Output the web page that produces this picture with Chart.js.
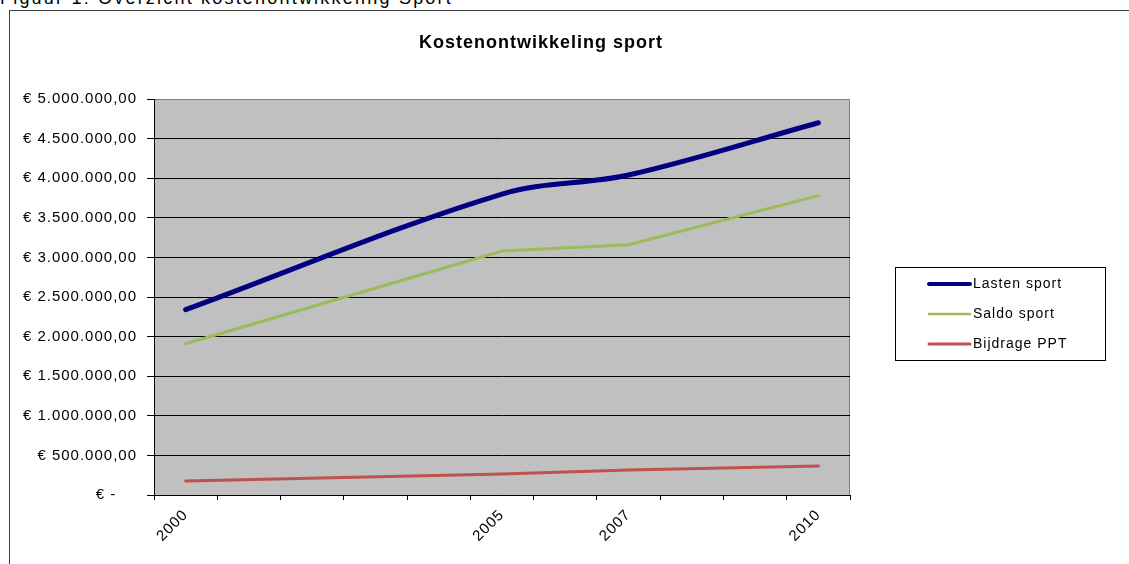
<!DOCTYPE html>
<html>
<head>
<meta charset="utf-8">
<title>Kostenontwikkeling sport</title>
<script src="https://cdn.jsdelivr.net/npm/chart.js@4.4.1/dist/chart.umd.min.js"></script>
<style>
    html, body { margin: 0; padding: 0; background: #fff; overflow: hidden; }
    #wrap { position: relative; width: 1129px; height: 564px; overflow: hidden; }
    #caption {
        position: absolute; left: 0; top: -12px;
        font: 18px 'Liberation Sans', Arial, sans-serif;
        letter-spacing: 2.2px; white-space: nowrap; color: #000;
    }
    #frame { position: absolute; left: 9px; top: 10px; width: 1200px; height: 600px; border: 1px solid #404040; }
    #chart { position: absolute; left: 0; top: 0; }
</style>
</head>
<body>
<div id="wrap">
    <div id="caption">Figuur 1: Overzicht kostenontwikkeling Sport</div>
    <div id="frame"></div>
    <canvas id="chart" width="1129" height="564"></canvas>
</div>
<script>
(function() {
    'use strict';

    // categorieen (alleen enkele jaren hebben een label)
    const categories = ['2000', '', '', '', '', '2005', '', '2007', '', '', '2010'];

    // waarden
    const lastenSport   = [2340000, null, null, null, null, 3800000, null, 4040000, null, null, 4700000];
    const saldoSport    = [1910000, null, null, null, null, 3080000, null, 3160000, null, null, 3780000];
    const bijdragePPT   = [177000,  null, null, null, null, 265000,  null, 315000,  null, null, 366000];

    const seriesNames = ['Lasten sport', 'Saldo sport', 'Bijdrage PPT'];

    const yTickLabels = [
        '€ -    ', '€ 500.000,00', '€ 1.000.000,00', '€ 1.500.000,00', '€ 2.000.000,00',
        '€ 2.500.000,00', '€ 3.000.000,00', '€ 3.500.000,00', '€ 4.000.000,00',
        '€ 4.500.000,00', '€ 5.000.000,00'
    ];

    const FONT = "'Liberation Sans', Arial, sans-serif";
    const SPACING = '1px';

    // achtergrond plotvlak, titel en legenda
    const decor = {
        id: 'decor',
        beforeUpdate(chart) {
            chart.ctx.letterSpacing = SPACING;
        },
        beforeDraw(chart) {
            const ctx = chart.ctx;
            const a = chart.chartArea;
            ctx.letterSpacing = SPACING;
            ctx.save();
            ctx.fillStyle = '#C0C0C0';
            ctx.fillRect(a.left, a.top, a.right - a.left, a.bottom - a.top);
            ctx.strokeStyle = '#808080';
            ctx.lineWidth = 1;
            ctx.beginPath();
            ctx.moveTo(a.left, a.top + 0.5);
            ctx.lineTo(a.right - 0.5, a.top + 0.5);
            ctx.lineTo(a.right - 0.5, a.bottom);
            ctx.stroke();
            ctx.restore();
        },
        afterDraw(chart) {
            const ctx = chart.ctx;
            ctx.save();
            // titel
            ctx.fillStyle = '#000';
            ctx.font = 'bold 18px ' + FONT;
            ctx.textAlign = 'center';
            ctx.textBaseline = 'middle';
            ctx.fillText('Kostenontwikkeling sport', 541, 43);

            // legenda
            const box = { x: 895.5, y: 267.5, w: 210, h: 93 };
            ctx.fillStyle = '#fff';
            ctx.fillRect(box.x, box.y, box.w, box.h);
            ctx.strokeStyle = '#000';
            ctx.lineWidth = 1;
            ctx.strokeRect(box.x, box.y, box.w, box.h);

            const sampleWidths = [4, 2.5, 3];
            ctx.font = '14px ' + FONT;
            ctx.textAlign = 'left';
            chart.data.datasets.forEach(function(ds, i) {
                const y = 284 + i * 30;
                ctx.strokeStyle = ds.borderColor;
                ctx.lineWidth = sampleWidths[i];
                ctx.lineCap = 'round';
                ctx.beginPath();
                ctx.moveTo(929, y);
                ctx.lineTo(970, y);
                ctx.stroke();
                ctx.fillStyle = '#000';
                ctx.fillText(ds.label, 973, y);
            });
            ctx.restore();
        }
    };

    const canvas = document.getElementById('chart');
    new Chart(canvas.getContext('2d'), {
        type: 'line',
        data: {
            labels: categories,
            datasets: [
                {
                    label: seriesNames[0], data: lastenSport,
                    borderColor: '#000080', borderWidth: 5, tension: 0.35,
                    borderCapStyle: 'round', pointRadius: 0, spanGaps: true
                },
                {
                    label: seriesNames[1], data: saldoSport,
                    borderColor: '#9BBB59', borderWidth: 3, tension: 0,
                    borderCapStyle: 'round', pointRadius: 0, spanGaps: true
                },
                {
                    label: seriesNames[2], data: bijdragePPT,
                    borderColor: '#C0504D', borderWidth: 3, tension: 0,
                    borderCapStyle: 'round', pointRadius: 0, spanGaps: true
                }
            ]
        },
        options: {
            responsive: false,
            animation: false,
            layout: { padding: { left: 0, right: 279, top: 99, bottom: 0 } },
            plugins: {
                legend: { display: false },
                title: { display: false },
                tooltip: { enabled: false }
            },
            scales: {
                x: {
                    offset: true,
                    grid: { offset: true, drawOnChartArea: false, tickLength: 5, color: '#000' },
                    border: { color: '#000', width: 1 },
                    ticks: {
                        autoSkip: false, minRotation: 45, maxRotation: 45,
                        padding: 6, color: '#000', font: { family: FONT, size: 15 }
                    },
                    afterFit: function(scale) { scale.height = 69; }
                },
                y: {
                    min: 0, max: 5000000,
                    grid: {
                        tickLength: 7,
                        tickColor: '#000',
                        color: function(c) { return c.tick && c.tick.value === 5000000 ? '#808080' : '#000'; }
                    },
                    border: { color: '#000', width: 1 },
                    ticks: {
                        stepSize: 500000, padding: 10, color: '#000',
                        font: { family: FONT, size: 15 },
                        callback: function(value, index) { return yTickLabels[index]; }
                    },
                    afterFit: function(scale) { scale.width = 154; }
                }
            }
        },
        plugins: [decor]
    });
})();
</script>
</body>
</html>
